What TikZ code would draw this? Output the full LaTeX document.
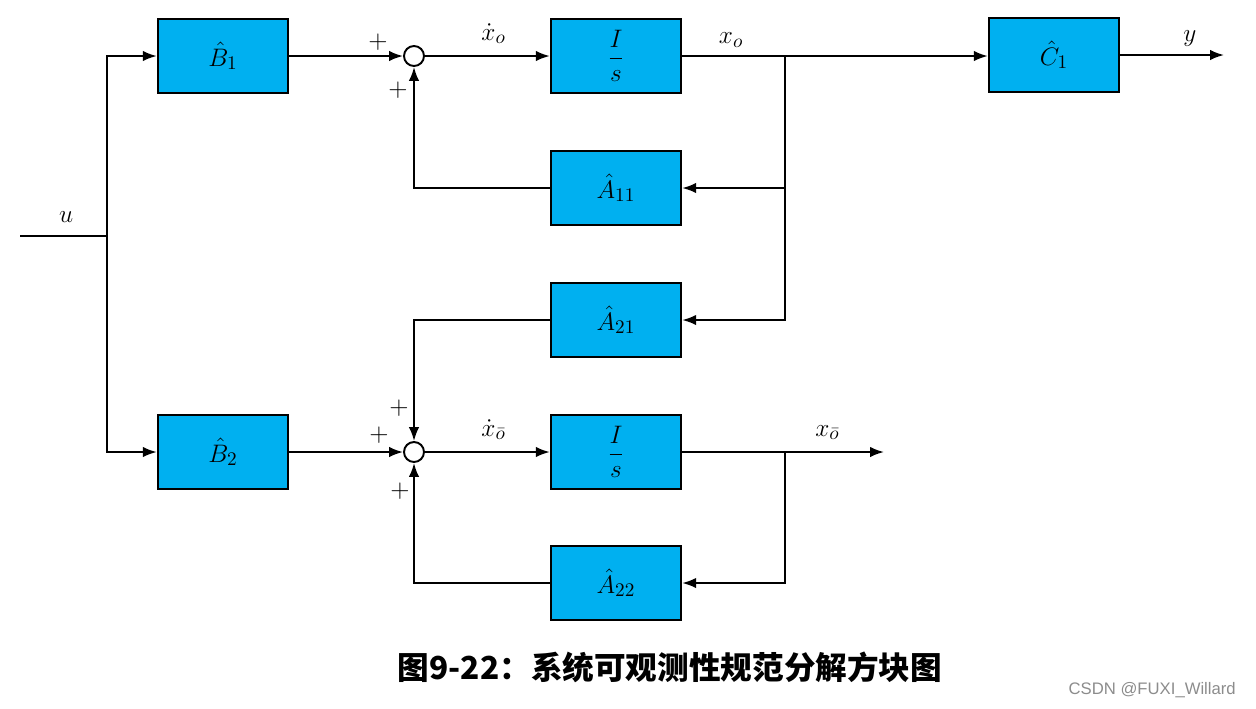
\documentclass[tikz,border=0pt]{standalone}
\usepackage{amsmath}
\usepackage{fontspec}
\usepackage{tikz}
\usetikzlibrary{arrows.meta,positioning}
\newfontfamily\cjk{Noto Sans CJK SC}
\newfontfamily\wmark{Liberation Sans}
\definecolor{boxblue}{HTML}{00B0F0}
\definecolor{wmgray}{HTML}{8C8C8C}

\begin{document}
\begin{tikzpicture}[x=0.02cm,y=-0.02cm,font=\fontsize{15}{17}\selectfont,>=Latex,
  blk/.style={draw,line width=1.4pt,fill=boxblue,minimum width=2.6cm,minimum height=1.48cm},
  sumnode/.style={draw,line width=1.1pt,circle,fill=white,minimum size=0.4cm,inner sep=0pt},
  sig/.style={->,line width=1.1pt},
  wire/.style={line width=1.1pt},
  pm/.style={font=\fontsize{15}{17}\selectfont}]
  \useasboundingbox (0,0) rectangle (1256,708);
  % blocks
  \node[blk] (B1) at (223,56) {$\hat{B}_1$};
  \node[blk] (B2) at (223,452) {$\hat{B}_2$};
  \node[blk] (I1) at (616,56) {$\displaystyle\frac{I}{s}$};
  \node[blk] (A11) at (616,188) {$\hat{A}_{11}$};
  \node[blk] (A21) at (616,320) {$\hat{A}_{21}$};
  \node[blk] (I2) at (616,452) {$\displaystyle\frac{I}{s}$};
  \node[blk] (A22) at (616,583) {$\hat{A}_{22}$};
  \node[blk] (C1) at (1054,55) {$\hat{C}_1$};
  % summing points
  \node[sumnode] (S1) at (414,56) {};
  \node[sumnode] (S2) at (414,452) {};
  % input u
  \coordinate (uin) at (20,236);
  \coordinate (usplit) at (107,236);
  \draw[wire] (uin) -- node[above=4pt,pos=0.53]{$u$} (usplit);
  \draw[sig] (usplit) |- (B1.west);
  \draw[sig] (usplit) |- (B2.west);
  % observable part
  \draw[sig] (B1) -- (S1);
  \draw[sig] (S1) -- node[above=3pt,pos=0.55]{$\dot{x}_o$} (I1);
  \draw[sig] (I1.east) -- node[above=1pt,pos=0.16]{$x_o$} (C1.west |- I1.east);
  \coordinate (yout) at (1224,55);
  \draw[sig] (C1) -- node[above=1pt,pos=0.67]{$y$} (yout);
  \coordinate (br1) at (785,56);
  \draw[sig] (br1) |- (A11.east);
  \draw[sig] (br1) |- (A21.east);
  \draw[sig] (A11.west) -| (S1.south);
  \draw[sig] (A21.west) -| (S2.north);
  % unobservable part
  \draw[sig] (B2) -- (S2);
  \draw[sig] (S2) -- node[above=3pt,pos=0.55]{$\dot{x}_{\bar{o}}$} (I2);
  \coordinate (xubout) at (884,452);
  \draw[sig] (I2.east) -- node[above=3pt,pos=0.72]{$x_{\bar{o}}$} (xubout);
  \coordinate (br2) at (785,452);
  \draw[sig] (br2) |- (A22.east);
  \draw[sig] (A22.west) -| (S2.south);
  % signs
  \node[pm] (p1) at (378,42) {$+$};
  \node[pm] (p2) at (398,90) {$+$};
  \node[pm] (p3) at (399,408) {$+$};
  \node[pm] (p4) at (379,435) {$+$};
  \node[pm] (p5) at (400,491) {$+$};
  % caption
  \node[font=\cjk\bfseries\fontsize{18}{20}\selectfont] (cap) at (670,667) {图9-22：系统可观测性规范分解方块图};
  \node[font=\wmark\fontsize{9.5}{11}\selectfont,text=wmgray,anchor=east] (wm) at (1242,690) {CSDN @FUXI\_Willard};
\end{tikzpicture}
\end{document}
